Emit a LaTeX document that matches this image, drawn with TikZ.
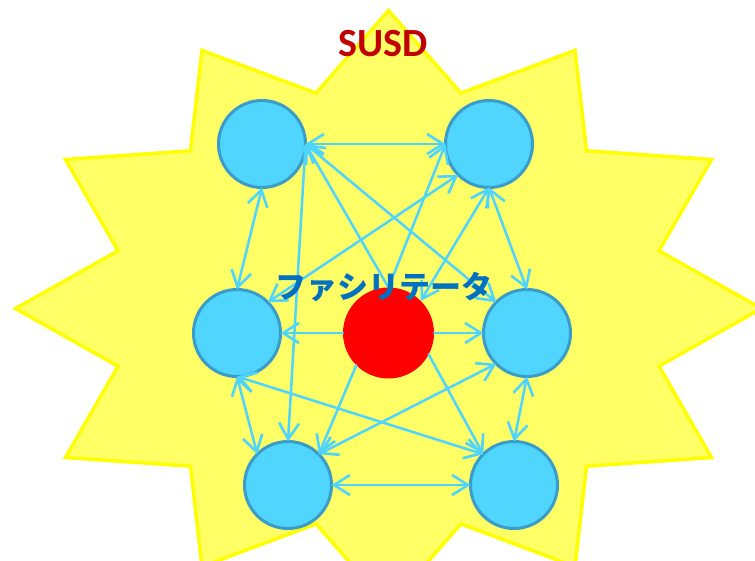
\documentclass[tikz,border=0pt]{standalone}
\usepackage{fontspec}
\setmainfont{Carlito}
\newfontfamily\jpfont{Noto Sans CJK JP}
\usetikzlibrary{arrows.meta}

\definecolor{starfill}{HTML}{FFFF66}
\definecolor{starline}{HTML}{FFFF00}
\definecolor{discfill}{HTML}{4FD5FF}
\definecolor{discline}{HTML}{3A9CC8}
\definecolor{linkcol}{HTML}{4FD3FF}
\definecolor{hubred}{HTML}{FF0000}
\definecolor{titlered}{HTML}{C00000}
\definecolor{jpblue}{HTML}{0070C0}

\tikzset{
  member/.style={circle, fill=discfill, draw=discline, line width=3pt,
    minimum size=87pt, inner sep=0pt, outer sep=0pt},
  hub/.style={circle, fill=hubred, minimum size=91pt, inner sep=0pt, outer sep=0pt},
  barb/.tip={Straight Barb[length=16pt,width=20pt,line width=2.6pt]},
  link/.style={draw=linkcol, line width=2.5pt, line cap=round},
  oneway/.style={link, -barb},
  twoway/.style={link, barb-barb},
  starbody/.style={fill=starfill, draw=starline, line width=3.5pt,
    line join=miter, miter limit=25},
}

\begin{document}
\begin{tikzpicture}[x=1pt, y=-1pt]
  \useasboundingbox (0,0) rectangle (755,560);
  \clip (0,0) rectangle (755,560);

  % twelve-pointed burst behind the team
  \begin{scope}[shift={(388.5,308.5)}, yscale=-1]
    \path[starbody] (90:373 and 298)
      \foreach \k in {0,...,10} {
        -- ({105+30*\k}:280 and 223) -- ({120+30*\k}:373 and 298)
      } -- (75:280 and 223) -- cycle;
  \end{scope}

  % team members and the facilitator
  \node[member] (tl) at (262,144) {};
  \node[member] (tr) at (489,144) {};
  \node[member] (ml) at (237,333) {};
  \node[member] (mr) at (527,333) {};
  \node[member] (bl) at (288,485) {};
  \node[member] (br) at (514,485) {};
  \node[hub] (fac) at (388.5,333) {};

  % links between members
  \draw[twoway] (tl.east) -- (tr.west);
  \draw[twoway] (tl.south) -- (ml.north);
  \draw[twoway] (tr.south) -- (mr.north);
  \draw[twoway] (ml.south) -- (bl.north west);
  \draw[twoway] (mr.south) -- (br.north);
  \draw[twoway] (bl.east) -- (br.west);
  \draw[twoway] (tl.east) -- (mr.north west);
  \draw[twoway] (tl.east) -- (bl.north);
  \draw[twoway] (tr.south west) -- (ml.north east);
  \draw[twoway] (ml.south) -- (br.north west);
  \draw[twoway] (mr.south west) -- (bl.north east);

  % links from the facilitator
  \draw[oneway] (fac.west) -- (ml.east);
  \draw[oneway] (fac.east) -- (mr.west);
  \draw[oneway] (fac.north) -- (tl.east);
  \draw[oneway] (fac.north) -- (tr.west);
  \draw[twoway] (tr.south) -- (fac.north east);
  \draw[oneway] (fac.south west) -- (bl.north east);
  \draw[oneway] (fac.-28) -- (br.north west);

  % labels
  \node[anchor=base, text=titlered, font=\fontsize{40}{40}\selectfont\bfseries,
    inner sep=0pt] (title) at (383,56.5) {SUSD};
  \node[anchor=base, text=jpblue, font=\jpfont\fontsize{31}{31}\selectfont\bfseries,
    inner sep=0pt] (faclabel) at (384,298.5) {ファシリテータ};
\end{tikzpicture}
\end{document}
